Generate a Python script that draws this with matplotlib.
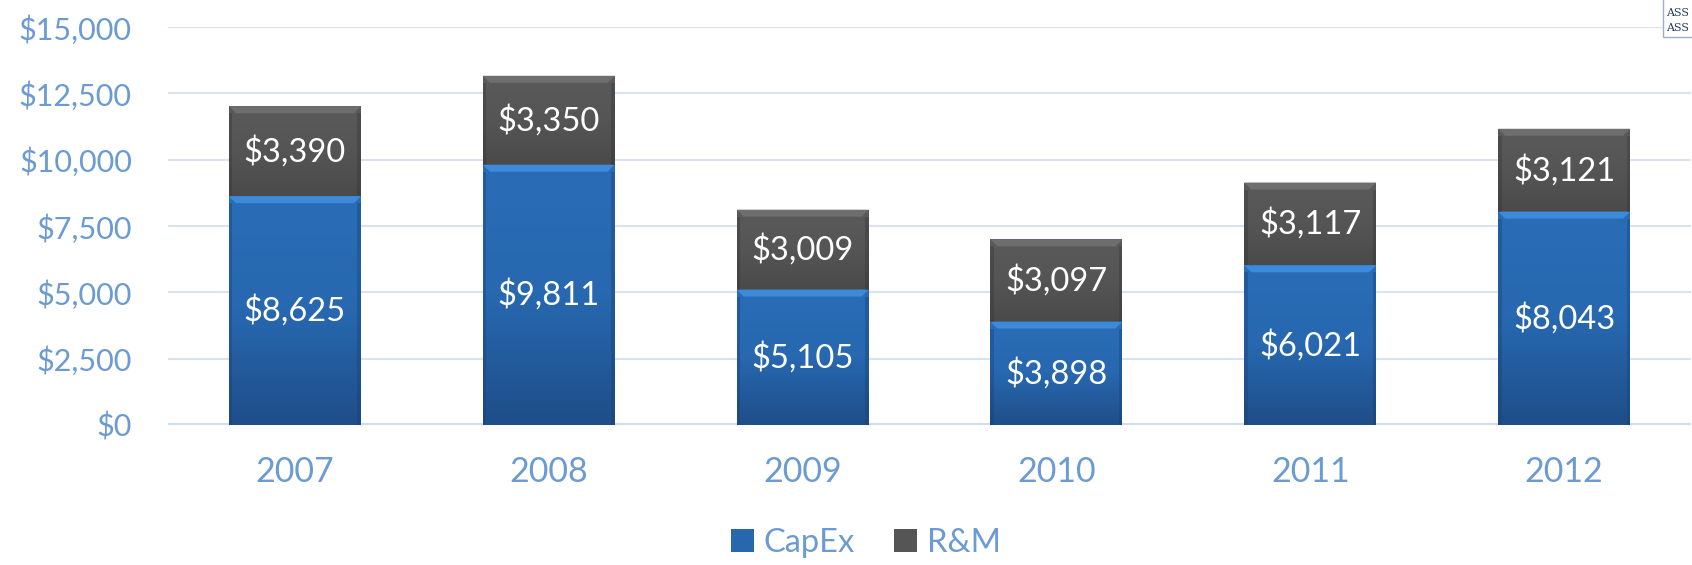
import numpy as np
import matplotlib
matplotlib.use("Agg")
import matplotlib.pyplot as plt
from matplotlib.patches import Polygon, Rectangle
from matplotlib.colors import LinearSegmentedColormap

# data
years = ["2007", "2008", "2009", "2010", "2011", "2012"]
capex = [8625, 9811, 5105, 3898, 6021, 8043]
rm = [3390, 3350, 3009, 3097, 3117, 3121]
yticks = [0, 2500, 5000, 7500, 10000, 12500, 15000]

plt.rcParams['font.family'] = ['Lato', 'DejaVu Sans']
tick_color = '#6B9BD2'

fig = plt.figure(figsize=(16.92, 5.65), dpi=100)
ax = fig.add_axes([168 / 1692, 140 / 565, 1523 / 1692, 398 / 565])

x = np.arange(len(years))
width = 0.52
b1 = ax.bar(x, capex, width, color='#2667AE', zorder=3, label='CapEx')
b2 = ax.bar(x, rm, width, bottom=capex, color='#555555', zorder=3, label='R&M')

# pixel -> data conversions
px_y = 15000 / 398.0
px_x = len(years) / 1523.0
bev_h = 7 * px_y
bev_w = 7 * px_x

cmap_blue = LinearSegmentedColormap.from_list('b', ['#1F4E88', '#2768B0', '#2A6DB6'])
cmap_gray = LinearSegmentedColormap.from_list('g', ['#4A4A4A', '#555555', '#5A5A5A'])

def shade(bars, cmap, top_col, side_col):
    for p in bars:
        x0, y0 = p.get_x(), p.get_y()
        w, h = p.get_width(), p.get_height()
        grad = np.linspace(0, 1, 256).reshape(-1, 1)
        im = ax.imshow(grad, cmap=cmap, extent=[x0, x0 + w, y0, y0 + h],
                       origin='lower', aspect='auto', zorder=3.1)
        im.set_clip_path(p)
        # top bevel
        top = Polygon([[x0, y0 + h], [x0 + w, y0 + h],
                       [x0 + w - bev_w, y0 + h - bev_h], [x0 + bev_w, y0 + h - bev_h]],
                      closed=True, facecolor=top_col, edgecolor='none', zorder=3.2)
        ax.add_patch(top)
        # side shading
        for sx in (x0, x0 + w - bev_w * 0.5):
            ax.add_patch(Rectangle((sx, y0), bev_w * 0.5, h - bev_h,
                                   facecolor=side_col, edgecolor='none', alpha=0.35, zorder=3.2))

shade(b1, cmap_blue, '#3D8ADA', '#173E6E')
shade(b2, cmap_gray, '#6E6E6E', '#333333')
ax.set_xlim(-0.5, len(years) - 0.5)
ax.set_ylim(0, 15000)

# labels
for i in range(len(years)):
    ax.text(x[i], capex[i] / 2, f"${capex[i]:,}", ha='center', va='center',
            color='white', fontsize=23.5, zorder=5)
    ax.text(x[i], capex[i] + rm[i] / 2, f"${rm[i]:,}", ha='center', va='center',
            color='white', fontsize=23.5, zorder=5)

ax.set_yticks(yticks)
ax.set_yticklabels([f"${v:,}" for v in yticks])
ax.set_xticks(x)
ax.set_xticklabels(years)
ax.tick_params(axis='both', length=0, colors=tick_color)
ax.tick_params(axis='y', pad=26, labelsize=22)
ax.tick_params(axis='x', pad=22, labelsize=24.5)
ax.grid(axis='y', color='#D9E3F0', linewidth=1.5, zorder=0)
ax.axhline(0, color='#D0DCEB', linewidth=3, zorder=2)
for s in ax.spines.values():
    s.set_visible(False)

leg = fig.legend(handles=[b1, b2], labels=['CapEx', 'R&M'], loc='center',
                 bbox_to_anchor=(866 / 1692, 1 - 543 / 565), ncol=2, frameon=False,
                 fontsize=23.5, handlelength=0.7, handleheight=0.7, handletextpad=0.3,
                 columnspacing=1.2)
for t in leg.get_texts():
    t.set_color(tick_color)

# logo fragment top right
fig.patches.append(Rectangle((1663 / 1692, 1 - 37 / 565), 0.05, 0.1, transform=fig.transFigure,
                             facecolor='white', edgecolor='#9AAFC8', linewidth=1, zorder=10))
fig.text(1666 / 1692, 1 - 13 / 565, "ASS", family='DejaVu Serif', fontsize=8,
         color='#243A5E', va='center', ha='left', zorder=11)
fig.text(1666 / 1692, 1 - 28 / 565, "ASS", family='DejaVu Serif', fontsize=8,
         color='#243A5E', va='center', ha='left', zorder=11)

fig.savefig('out.png', dpi=100)
